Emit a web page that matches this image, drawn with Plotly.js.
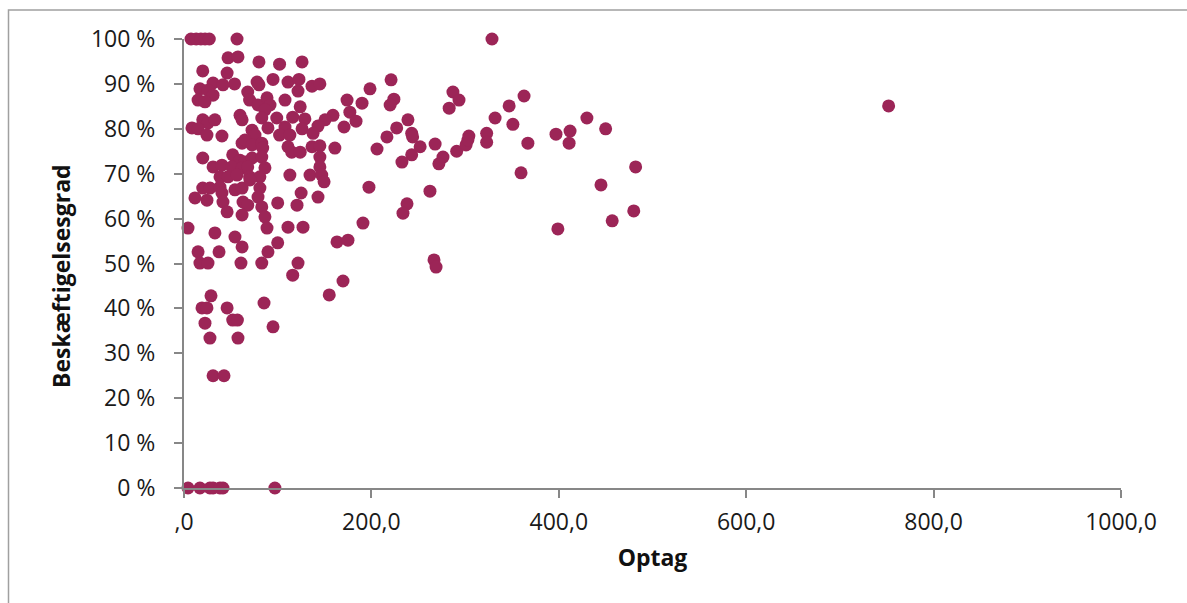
<!DOCTYPE html>
<html><head><meta charset="utf-8">
<script src="https://cdn.plot.ly/plotly-3.0.1.min.js"></script>
<style>html,body{margin:0;padding:0;background:#fff}#c{width:1187px;height:603px}</style>
</head><body><div id="c"></div>
<script>
const optag = [
7.5,13,18,22.5,27,56.6,328.7,
47,57.6,20,46,80,102,31,41.6,54,17,25.6,31,15,22.4,68,78,80,95,111,70,79,88.6,91.8,86.4,107.8,83,99,59.8,62,116,20,25.6,33,8.5,15,24.5,40.5,72.6,75.8,89.6,107.8,102,113,62,65,72.6,83,84,111,115,20,52,59.8,65,72.6,83,31,40.5,51,62,68,86.4,38.4,47,56.6,70,81,113,
20,27.7,38.4,40.5,54.4,62,70.4,81,79,11.7,24.5,41.6,63,68,83,100,120.6,46,62,86.4,4.3,33,54.4,88.6,111,62,100,15,37.4,89.6,17,25.6,60.8,83,121.7,116,28.8,19.2,24.5,46,85.4,22.4,52,57,95,
27.7,57.6,31,42.7,4.3,17,27.7,31,38.4,41.6,97,
126,122.7,121.7,136.6,145,124,129,126,159,150.5,143,137.7,124,136.6,145,145,145,161,174,177,190,183.6,170.8,198.5,221,224,220,239,227,216.6,243,244,206,252,243,232.6,134.5,147,
149.5,197.4,125,143,238,233.7,127,191,163.3,175,169.7,155,
287,293.5,283,362.9,347,332,351,268,276.4,272,291,301,304,303,323,323,367,359.7,262.5,397,412,411,430,450,482,445,480,457,399,266.8,269,752
];
const beskaeftigelse = [
100,100,100,100,100,100,100,
95.8,96,92.9,92.4,94.9,94.4,90.2,89.8,90,88.9,88.6,87.5,86.4,86,88.2,90.4,89.8,91,90.4,86.4,85.3,86.9,85.3,84.2,86.4,82.4,82.4,83,82,82.6,82,81.3,82,80.2,80,78.6,78.4,79.7,78.6,80.2,80.4,78.6,78.6,76.8,77.5,76.4,76.8,75.7,76,74.8,73.5,74.2,73,72.6,73.5,73.7,71.5,71.9,71.5,71.3,71.5,71.3,69.3,69.3,69.7,69.3,69.3,69.7,
66.8,66.8,67,65.7,66.4,66.8,68.6,66.8,64.8,64.6,64.1,63.7,63.7,63,62.6,63.5,63,61.5,60.8,60.4,57.9,56.8,55.9,57.9,58.1,53.7,54.6,52.6,52.6,52.6,50.1,50.1,50.1,50.1,50.1,47.4,42.8,40.1,40.1,40.1,41.2,36.7,37.4,37.4,35.9,
33.4,33.4,25,25,0,0,0,0,0,0,0,
94.9,91,88.4,89.5,90,84.9,82.2,80,83,82,80.6,79,74.8,76,76.2,73.7,71.5,75.7,86.4,83.7,85.7,81.7,80.4,88.9,90.9,86.6,85.3,82,80.2,78.2,79,78.2,75.5,76,74.2,72.6,69.7,69.7,
68.2,67,65.7,64.8,63.3,61.2,58.1,59,54.8,55.2,46.1,43,
88.2,86.4,84.6,87.3,85.1,82.4,81,76.6,73.7,72.2,75,76.4,78.4,77.5,79,77,76.8,70.2,66.1,78.8,79.5,76.8,82.4,80,71.5,67.5,61.7,59.5,57.7,50.8,49.2,85.1
].map(v => v / 100);

const xTickVals = [0, 200, 400, 600, 800, 1000];
const xTickText = [",0", "200,0", "400,0", "600,0", "800,0", "1000,0"];
const yTickVals = [0, 0.1, 0.2, 0.3, 0.4, 0.5, 0.6, 0.7, 0.8, 0.9, 1];
const yTickText = ["0 %", "10 %", "20 %", "30 %", "40 %", "50 %", "60 %", "70 %", "80 %", "90 %", "100 %"];

const font = "Open Sans, Noto Sans, DejaVu Sans, sans-serif";
const L = 184, R = 66, T = 39, B = 115, W = 1187, H = 603;
const pw = W - L - R, ph = H - T - B;

Plotly.newPlot('c', [{
  x: optag, y: beskaeftigelse, type: 'scatter', mode: 'markers',
  cliponaxis: false,
  marker: {color: '#9c2557', size: 13, line: {width: 0}},
  hoverinfo: 'x+y'
}], {
  width: W, height: H,
  margin: {l: L, r: R, t: T, b: B},
  paper_bgcolor: '#fff', plot_bgcolor: '#fff',
  showlegend: false,
  font: {family: font, size: 23, color: '#222'},
  xaxis: {
    range: [0, 1000], tickvals: xTickVals, ticktext: xTickText,
    showgrid: false, zeroline: false, showline: true, linecolor: '#878787', linewidth: 2,
    ticks: 'outside', ticklen: 8, tickwidth: 2, tickcolor: '#878787',
    ticklabelstandoff: 4,
    tickfont: {family: font, size: 23, color: '#1a1a1a'},
    title: {text: '<b>Optag</b>', font: {family: font, size: 23, color: '#111'}, standoff: 14},
    automargin: false, fixedrange: true
  },
  yaxis: {
    range: [0, 1], tickvals: yTickVals, ticktext: yTickText,
    showgrid: false, zeroline: false, showline: true, linecolor: '#878787', linewidth: 2,
    ticks: 'outside', ticklen: 8, tickwidth: 2, tickcolor: '#878787',
    ticklabelstandoff: 14,
    tickfont: {family: font, size: 23, color: '#1a1a1a'},
    automargin: false, fixedrange: true
  },
  annotations: [{
    text: '<b>Beskæftigelsesgrad</b>', textangle: -90, showarrow: false,
    xref: 'paper', yref: 'paper', x: (61 - L) / pw, y: (H - B - 276) / ph,
    xanchor: 'center', yanchor: 'middle',
    font: {family: font, size: 23, color: '#111'}
  }],
  shapes: [{
    type: 'rect', xref: 'paper', yref: 'paper', layer: 'below',
    x0: (8.5 - L) / pw, x1: (1195 - L) / pw,
    y0: (H - B - 615) / ph, y1: (H - B - 10) / ph,
    line: {color: '#a0a0a0', width: 1.5}, fillcolor: 'rgba(0,0,0,0)'
  }]
}, {displayModeBar: false, staticPlot: true});
</script>
</body></html>
